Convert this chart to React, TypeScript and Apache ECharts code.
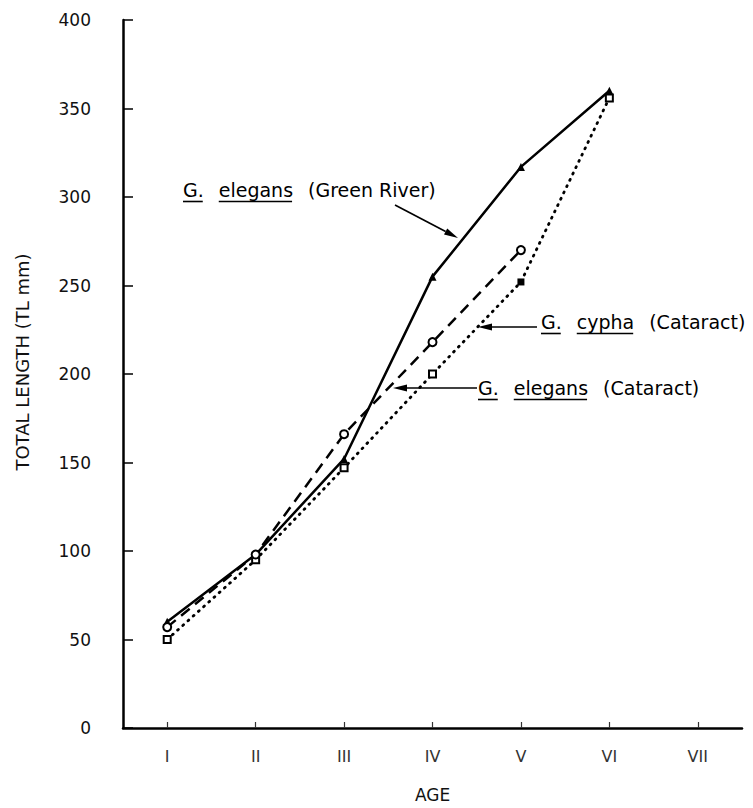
import React, { useEffect, useRef } from 'react';
import * as echarts from 'echarts';

const categories = ['I', 'II', 'III', 'IV', 'V', 'VI', 'VII'];
const yMin = 0;
const yMax = 400;
const yInterval = 50;
const greenRiver: (number | null)[] = [60, 98, 152, 255, 317, 360, null];
const cyphaCataract: (number | null)[] = [57, 98, 166, 218, 270, null, null];
const elegansCataract: (number | null)[] = [50, 95, 147, 200, 252, 356, null];
const elegansCataractFilled = [false, false, false, false, true, false, false];

const xAxisName = 'AGE';
const yAxisName = 'TOTAL LENGTH (TL mm)';

const annGreen = ['G.', 'elegans', '(Green River)'];
const annCypha = ['G.', 'cypha', '(Cataract)'];
const annElegansC = ['G.', 'elegans', '(Cataract)'];
const underlined = [true, true, false];

const FONT = '"DejaVu Sans", sans-serif';
const ANN_SIZE = 19;

function measure(text: string, size: number): number {
  const c = document.createElement('canvas').getContext('2d');
  if (!c) return text.length * size * 0.6;
  c.font = `${size}px "DejaVu Sans"`;
  return c.measureText(text).width;
}

function annotation(words: string[], x0: number, yc: number, gap: number): any[] {
  const els: any[] = [];
  let x = x0;
  words.forEach((w, i) => {
    const wd = measure(w, ANN_SIZE);
    els.push({
      type: 'text',
      x,
      y: yc,
      style: { text: w, font: `${ANN_SIZE}px ${FONT}`, fill: '#000', align: 'left', verticalAlign: 'middle' },
    });
    if (underlined[i]) {
      els.push({
        type: 'line',
        shape: { x1: x, y1: yc + 11.5, x2: x + wd - 1, y2: yc + 11.5 },
        style: { stroke: '#000', lineWidth: 1.6 },
      });
    }
    x += wd + gap;
  });
  return els;
}

function arrow(x1: number, y1: number, x2: number, y2: number): any[] {
  const dx = x2 - x1;
  const dy = y2 - y1;
  const len = Math.sqrt(dx * dx + dy * dy);
  const ux = dx / len;
  const uy = dy / len;
  const hl = 14;
  const hw = 3.5;
  const bx = x2 - ux * hl;
  const by = y2 - uy * hl;
  return [
    { type: 'line', shape: { x1, y1, x2: bx, y2: by }, style: { stroke: '#000', lineWidth: 1.6 } },
    {
      type: 'polygon',
      shape: { points: [[x2, y2], [bx - uy * hw, by + ux * hw], [bx + uy * hw, by - ux * hw]] },
      style: { fill: '#000' },
    },
  ];
}

export default function App() {
  const ref = useRef<HTMLDivElement>(null);
  useEffect(() => {
    if (!ref.current) return;
    document.body.style.margin = '0';
    const chart = echarts.init(ref.current, undefined, { renderer: 'svg' });
    const axisFont = { fontFamily: FONT, color: '#111' };
    const option: any = {
      animation: false,
      backgroundColor: '#fff',
      grid: { left: 123, right: 11, top: 20, bottom: 78, containLabel: false },
      xAxis: {
        type: 'category',
        data: categories,
        boundaryGap: true,
        axisLine: { lineStyle: { color: '#000', width: 2.5 } },
        axisTick: { show: true, inside: true, alignWithLabel: true, length: 6, lineStyle: { color: '#333', width: 1.2 } },
        axisLabel: { margin: 20, fontSize: 16, ...axisFont, color: '#333' },
        splitLine: { show: false },
        name: xAxisName,
        nameLocation: 'middle',
        nameGap: 58,
        nameTextStyle: { fontSize: 17, ...axisFont },
      },
      yAxis: {
        type: 'value',
        min: yMin,
        max: yMax,
        interval: yInterval,
        axisLine: { show: true, lineStyle: { color: '#000', width: 2.5 } },
        axisTick: { show: true, inside: true, length: 10, lineStyle: { color: '#000', width: 1.5 } },
        axisLabel: { margin: 32, fontSize: 17, ...axisFont },
        splitLine: { show: false },
      },
      series: [
        {
          name: 'G. elegans (Green River)',
          type: 'line',
          data: greenRiver,
          symbol: 'triangle',
          symbolSize: 8,
          lineStyle: { color: '#000', width: 2.5, type: 'solid' },
          itemStyle: { color: '#000' },
          z: 3,
        },
        {
          name: 'G. cypha (Cataract)',
          type: 'line',
          data: cyphaCataract,
          symbol: 'emptyCircle',
          symbolSize: 8,
          lineStyle: { color: '#000', width: 2.5, type: [11, 7] },
          itemStyle: { color: '#000', borderWidth: 1.5 },
          z: 4,
        },
        {
          name: 'G. elegans (Cataract)',
          type: 'line',
          data: elegansCataract.map((v, i) =>
            elegansCataractFilled[i]
              ? { value: v, symbol: 'rect', itemStyle: { color: '#000' } }
              : v
          ),
          symbol: 'emptyRect',
          symbolSize: 7,
          lineStyle: { color: '#000', width: 2.8, type: [1, 6], cap: 'round' },
          itemStyle: { color: '#000', borderWidth: 1.5 },
          z: 2,
        },
      ],
      graphic: [
        {
          type: 'text',
          x: 22,
          y: 362,
          rotation: Math.PI / 2,
          style: { text: yAxisName, font: `18px ${FONT}`, fill: '#111', align: 'center', verticalAlign: 'middle' },
        },
        ...annotation(annGreen, 183, 190, 15),
        ...arrow(395, 205, 458, 238),
        ...annotation(annCypha, 541, 322, 15),
        ...arrow(537, 327, 478, 327),
        ...annotation(annElegansC, 478, 388, 15),
        ...arrow(477, 388, 393, 388),
      ],
    };
    chart.setOption(option);
    return () => chart.dispose();
  }, []);
  return <div ref={ref} style={{ width: 753, height: 808 }} />;
}
